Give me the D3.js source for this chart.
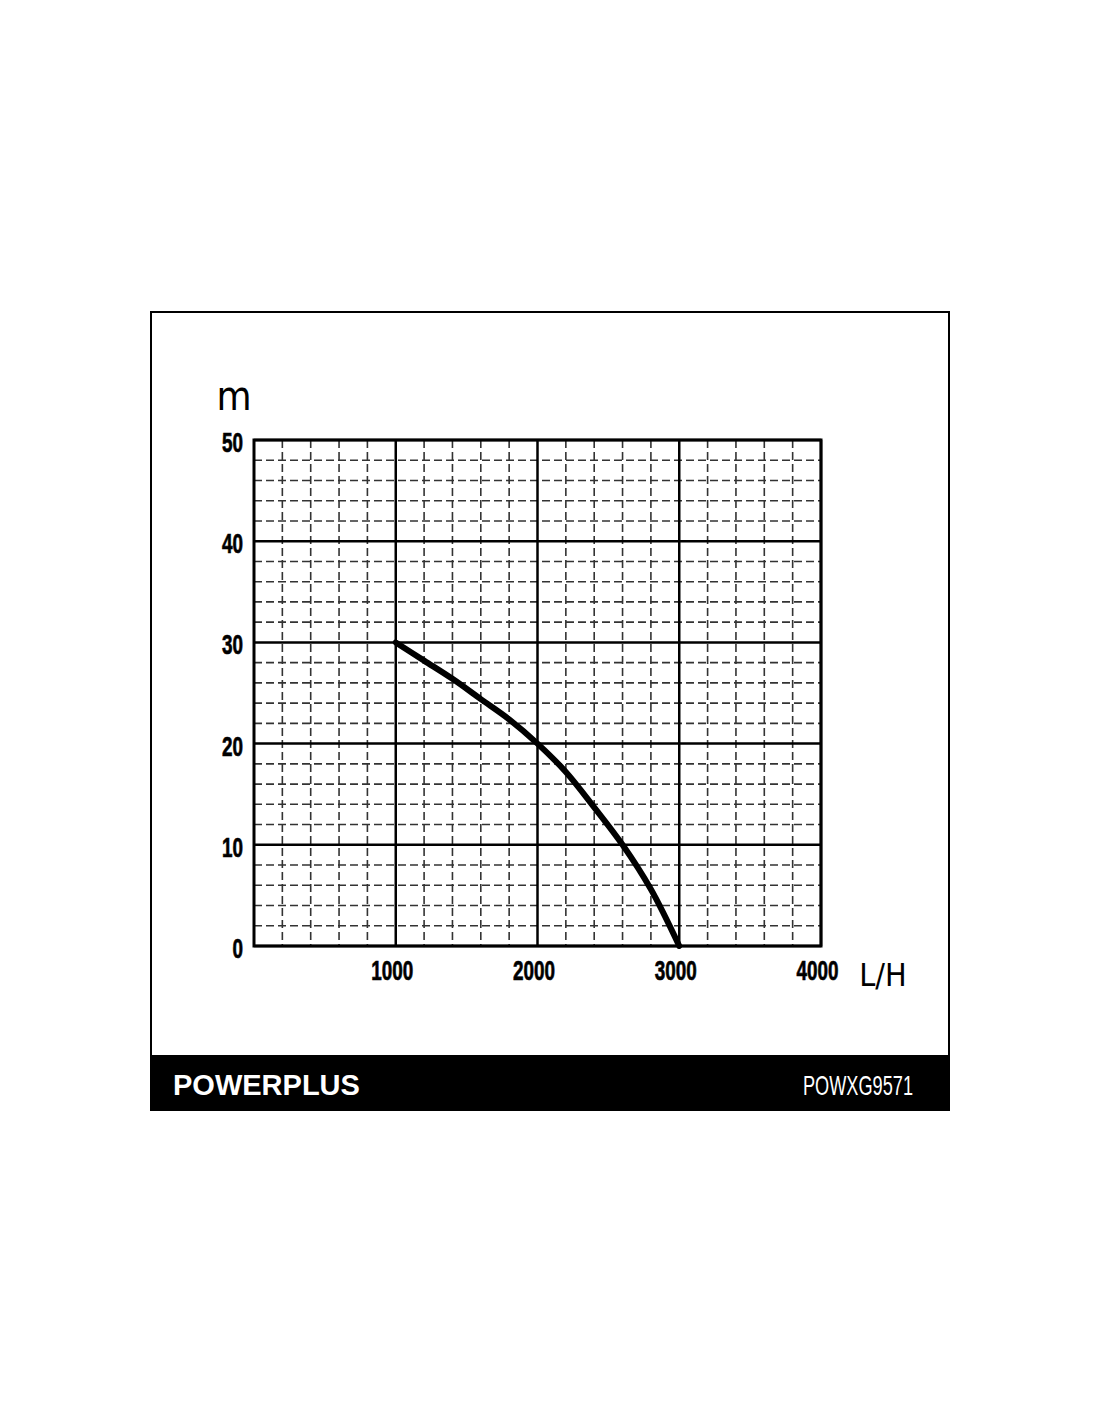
<!DOCTYPE html>
<html>
<head>
<meta charset="utf-8">
<script src="https://cdn.jsdelivr.net/npm/d3@7"></script>
<style>
  html, body { margin: 0; padding: 0; background: #fff; }
  svg { display: block; }
  .tick text { font-family: "Liberation Sans", Arial, sans-serif; font-weight: bold; fill: #000; stroke: #000; stroke-width: 0.7; }
</style>
</head>
<body>
<svg id="chart" width="1100" height="1422"></svg>
<script>
// ---- data ----
const flowLH = [1000, 1200, 1400, 1600, 1800, 2000, 2200, 2400, 2600, 2800, 3000];
const headM  = [30, 28.2, 26.4, 24.4, 22.4, 20, 17.2, 13.7, 10.0, 5.6, 0];
const xTicks = [1000, 2000, 3000, 4000];
const yTicks = [0, 10, 20, 30, 40, 50];
const xUnit = "L/H";
const yUnit = "m";
const brand = "POWERPLUS";
const model = "POWXG9571";

const svg = d3.select("#chart");

// frame
svg.append("rect").attr("x", 151).attr("y", 312).attr("width", 798).attr("height", 798)
  .attr("fill", "#fff").attr("stroke", "#000").attr("stroke-width", 2);
// footer band
svg.append("rect").attr("x", 151).attr("y", 1055).attr("width", 798).attr("height", 56).attr("fill", "#000");
svg.append("text").attr("x", 173).attr("y", 1095).text(brand)
  .attr("font-family", "'Liberation Sans', Arial, sans-serif").attr("font-weight", "bold")
  .attr("font-size", 29).attr("fill", "#fff");
svg.append("text").attr("x", 803).attr("y", 1095).text(model)
  .attr("font-family", "'Liberation Sans', Arial, sans-serif")
  .attr("font-size", 28).attr("fill", "#fff")
  .attr("textLength", 110).attr("lengthAdjust", "spacingAndGlyphs");

// scales
const x = d3.scaleLinear().domain([0, 4000]).range([254, 821]);
const y = d3.scaleLinear().domain([0, 50]).range([946, 440]);

// minor grid
const minorX = d3.range(200, 4000, 200).filter(v => v % 1000 !== 0);
const minorY = d3.range(2, 50, 2).filter(v => v % 10 !== 0);
const grid = svg.append("g");
grid.selectAll("line.mx").data(minorX).join("line")
  .attr("x1", d => x(d)).attr("x2", d => x(d)).attr("y1", y(50)).attr("y2", y(0))
  .attr("stroke", "#333").attr("stroke-width", 1.6).attr("stroke-dasharray", "8,4");
grid.selectAll("line.my").data(minorY).join("line")
  .attr("y1", d => y(d)).attr("y2", d => y(d)).attr("x1", x(0)).attr("x2", x(4000))
  .attr("stroke", "#333").attr("stroke-width", 1.6).attr("stroke-dasharray", "8,4");

// major grid
grid.selectAll("line.Mx").data(xTicks).join("line")
  .attr("x1", d => x(d)).attr("x2", d => x(d)).attr("y1", y(50)).attr("y2", y(0))
  .attr("stroke", "#000").attr("stroke-width", 2.5);
grid.selectAll("line.My").data(yTicks).join("line")
  .attr("y1", d => y(d)).attr("y2", d => y(d)).attr("x1", x(0)).attr("x2", x(4000))
  .attr("stroke", "#000").attr("stroke-width", 2.5);
svg.append("rect").attr("x", x(0)).attr("y", y(50)).attr("width", x(4000) - x(0)).attr("height", y(0) - y(50))
  .attr("fill", "none").attr("stroke", "#000").attr("stroke-width", 3);

// axes (labels only)
const fmt = d3.format("d");
const yAxis = svg.append("g").attr("transform", `translate(${x(0)},0)`)
  .call(d3.axisLeft(y).tickValues(yTicks).tickFormat(fmt).tickSize(0).tickPadding(11));
yAxis.select(".domain").remove();
yAxis.selectAll("text").attr("font-size", 28).attr("dy", 0).attr("y", 11.5)
  .attr("textLength", d => 10.5 * fmt(d).length).attr("lengthAdjust", "spacingAndGlyphs");

const xAxis = svg.append("g").attr("transform", `translate(0,${y(0)})`)
  .call(d3.axisBottom(x).tickValues(xTicks).tickFormat(fmt).tickSize(0));
xAxis.select(".domain").remove();
xAxis.selectAll("text").attr("font-size", 28).attr("dy", 0).attr("y", 34).attr("x", -4)
  .attr("textLength", 42).attr("lengthAdjust", "spacingAndGlyphs");

// units
svg.append("text").attr("x", 234).attr("y", 410).text(yUnit).attr("text-anchor", "middle")
  .attr("font-family", "'DejaVu Sans Condensed', 'Liberation Sans', sans-serif")
  .attr("font-size", 40).attr("fill", "#000");
svg.append("text").attr("x", 883).attr("y", 986).text(xUnit).attr("text-anchor", "middle")
  .attr("font-family", "'DejaVu Sans Condensed', 'Liberation Sans', sans-serif")
  .attr("font-size", 32).attr("fill", "#000");

// curve
const pts = flowLH.map((f, i) => [f, headM[i]]);
svg.append("path").datum(pts)
  .attr("d", d3.line().x(d => x(d[0])).y(d => y(d[1])).curve(d3.curveCatmullRom))
  .attr("fill", "none").attr("stroke", "#000").attr("stroke-width", 6)
  .attr("stroke-linecap", "round").attr("stroke-linejoin", "round");
</script>
</body>
</html>
